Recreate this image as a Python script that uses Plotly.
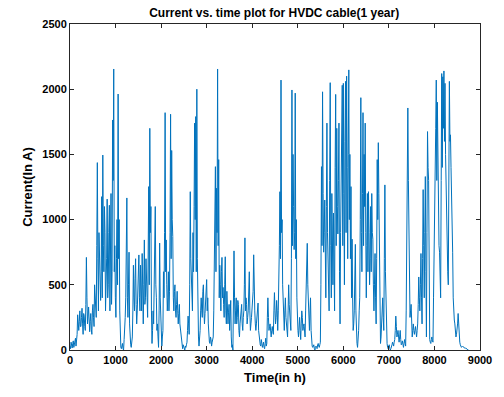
import numpy as np
import plotly.graph_objects as go

# Current samples (A): one at 00:00 and one at 12:00 of each day
current_midnight = [
    30, 60, 15, 70, 40, 90, 60, 270, 150, 300,
    180, 320, 120, 260, 150, 710, 200, 330, 140, 280,
    120, 350, 180, 420, 250, 1437, 300, 650, 380, 1176,
    1495, 600, 900, 450, 1157, 500, 1110, 700, 350, 1764,
    2155, 800, 250, 1000, 1963, 1000, 100, 10, 50, 0,
    150, 400, 1166, 250, 750, 80, 20, 100, 650, 300,
    700, 200, 450, 729, 300, 500, 740, 200, 844, 400,
    600, 250, 1253, 1700, 1100, 50, 300, 500, 1100, 400,
    200, 20, 820, 300, 30, 150, 400, 1820, 844, 300,
    600, 450, 1808, 1530, 870, 300, 500, 250, 450, 200,
    350, 150, 60, 10, 30, 0, 20, 60, 260, 120,
    1214, 490, 300, 600, 1740, 1790, 2000, 200, 30, 150,
    400, 250, 500, 200, 350, 540, 400, 100, 50, 80,
    60, 100, 720, 1406, 1240, 2155, 1460, 650, 300, 710,
    480, 250, 715, 200, 350, 290, 150, 380, 20, 0,
    760, 200, 400, 250, 350, 100, 250, 350, 150, 300,
    860, 400, 200, 300, 600, 150, 250, 400, 730, 300,
    150, 250, 360, 100, 40, 80, 20, 60, 10, 90,
    50, 400, 150, 200, 100, 180, 120, 440, 200, 380,
    150, 480, 1214, 2070, 1000, 300, 150, 400, 200, 100,
    500, 250, 150, 1994, 1500, 770, 1970, 1000, 200, 100,
    250, 80, 300, 150, 200, 100, 560, 818, 300, 150,
    400, 50, 20, 40, 0, 30, 10, 50, 20, 60,
    1406, 1980, 750, 1150, 400, 1740, 600, 300, 2050, 400,
    900, 1050, 300, 1960, 1700, 890, 1740, 200, 1200, 2030,
    2045, 500, 2060, 2100, 700, 2148, 1500, 1253, 850, 150,
    300, 810, 100, 20, 150, 400, 1935, 600, 1820, 1500,
    1740, 400, 1200, 1214, 500, 1100, 1200, 850, 300, 740,
    200, 1460, 1590, 750, 50, 200, 400, 150, 1266, 350,
    50, 10, 40, 0, 20, 60, 30, 80, 260, 100,
    150, 60, 150, 40, 70, 20, 80, 30, 870, 1856,
    1000, 250, 350, 100, 200, 120, 180, 100, 200, 560,
    300, 740, 200, 1230, 400, 1330, 100, 1675, 1300, 80,
    50, 100, 60, 890, 1460, 2070, 1900, 1000, 750, 400,
    2120, 2095, 2140, 2045, 1250, 750, 500, 2060, 1650, 1230,
    750, 260, 200, 100, 150, 280, 80, 40, 20, 30,
    20, 10, 15, 5, 0,
]
current_noon = [
    10, 40, 50, 20, 60, 30, 120, 200, 220, 180,
    250, 200, 280, 180, 350, 400, 260, 200, 220, 160,
    300, 250, 500, 300, 800, 700, 900, 450, 600, 400,
    800, 1100, 300, 700, 400, 900, 300, 1200, 600, 1300,
    600, 400, 700, 500, 700, 300, 20, 30, 10, 80,
    250, 700, 400, 500, 200, 40, 60, 300, 400, 550,
    350, 300, 600, 400, 650, 300, 400, 500, 350, 700,
    400, 800, 500, 900, 300, 150, 200, 800, 500, 150,
    100, 300, 400, 100, 100, 600, 900, 600, 500, 400,
    300, 900, 700, 1000, 400, 450, 300, 350, 300, 280,
    200, 100, 20, 40, 10, 30, 40, 150, 200, 500,
    700, 400, 900, 1100, 1000, 600, 700, 100, 80, 300,
    300, 450, 300, 280, 400, 300, 200, 60, 100, 30,
    90, 300, 1000, 600, 900, 800, 400, 500, 600, 400,
    350, 500, 300, 450, 200, 350, 250, 100, 40, 300,
    400, 300, 200, 380, 150, 200, 300, 200, 250, 500,
    300, 350, 250, 450, 300, 200, 350, 450, 400, 200,
    200, 300, 150, 60, 30, 50, 40, 20, 50, 30,
    250, 250, 180, 150, 150, 140, 300, 300, 250, 300,
    300, 800, 700, 900, 500, 250, 300, 250, 150, 300,
    350, 200, 700, 800, 1100, 900, 700, 400, 150, 200,
    150, 200, 250, 180, 150, 300, 650, 500, 200, 300,
    150, 30, 30, 10, 20, 20, 40, 30, 40, 500,
    800, 1200, 900, 600, 1100, 900, 400, 1300, 800, 1200,
    500, 700, 1400, 800, 1100, 1300, 600, 900, 1500, 800,
    1200, 1600, 900, 1400, 1500, 1000, 700, 400, 400, 200,
    500, 300, 50, 80, 300, 1000, 900, 1200, 800, 1100,
    900, 800, 600, 900, 700, 600, 900, 500, 500, 400,
    700, 1000, 1200, 300, 100, 300, 250, 700, 600, 150,
    20, 30, 10, 10, 40, 40, 60, 150, 180, 120,
    100, 100, 80, 50, 40, 50, 50, 300, 1300, 1300,
    500, 300, 200, 150, 150, 150, 140, 150, 350, 400,
    500, 400, 700, 800, 900, 600, 900, 1400, 500, 60,
    80, 70, 400, 1200, 1700, 1300, 1500, 800, 600, 1300,
    1400, 1700, 1600, 1500, 900, 600, 1300, 1600, 1400, 900,
    400, 230, 150, 120, 200, 150, 60, 30, 25, 25,
    15, 12, 10, 3, 0,
]

current = []
for a, b in zip(current_midnight, current_noon):
    current.extend([a, b])
hours = np.arange(len(current)) * 12

x_ticks = [0, 1000, 2000, 3000, 4000, 5000, 6000, 7000, 8000, 9000]
y_ticks = [0, 500, 1000, 1500, 2000, 2500]

title_text = "Current vs. time plot for HVDC cable(1 year)"
x_title = "Time(in h)"
y_title = "Current(In A)"

FONT = "Liberation Sans, Arial"

fig = go.Figure()
fig.add_trace(go.Scatter(x=hours, y=current, mode="lines",
                         line=dict(color="#0072BD", width=1)))

axis_common = dict(
    showline=True, linecolor="#262626", linewidth=1, mirror="ticks",
    ticks="inside", ticklen=4, tickcolor="#262626", showgrid=False,
    zeroline=False,
    tickfont=dict(family=FONT, size=11, color="#000000", weight="bold"),
)

fig.update_layout(
    width=504, height=397,
    margin=dict(l=70, r=19, t=24, b=47),
    paper_bgcolor="white", plot_bgcolor="white",
    showlegend=False,
    title=dict(text=title_text, x=0.544, xanchor="center", y=0.967, yanchor="middle",
               font=dict(family=FONT, size=12, color="#000000", weight="bold")),
    xaxis=dict(range=[0, 9000], tickvals=x_ticks, ticktext=[str(v) for v in x_ticks],
               title=dict(text=x_title, standoff=7,
                          font=dict(family=FONT, size=13, color="#000000", weight="bold")),
               **axis_common),
    yaxis=dict(range=[0, 2500], tickvals=y_ticks, ticktext=[str(v) for v in y_ticks],
               title=dict(text=y_title, standoff=6,
                          font=dict(family=FONT, size=13, color="#000000", weight="bold")),
               **axis_common),
)

fig.write_html("out.html")
